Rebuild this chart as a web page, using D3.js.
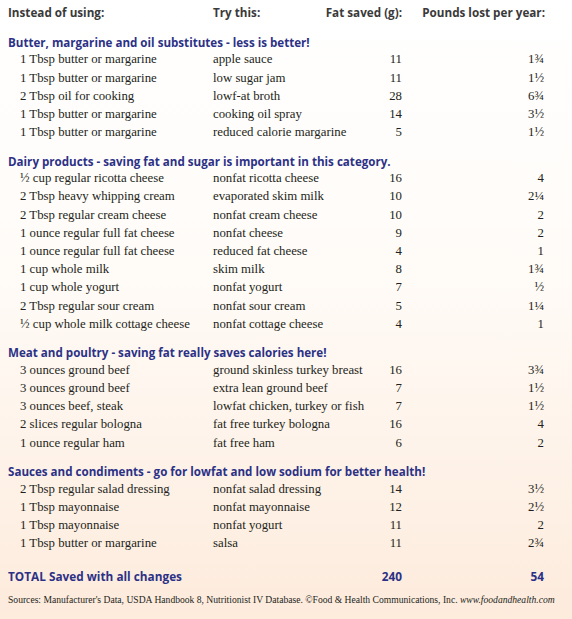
<!DOCTYPE html>
<html><head><meta charset="utf-8">
<script src="https://cdn.jsdelivr.net/npm/d3@7"></script>
<style>body{margin:0;}svg{display:block;}</style>
</head><body>
<script>
const headers = ["Instead of using:", "Try this:", "Fat saved (g):", "Pounds lost per year:"];
const sectionTitles = [
  "Butter, margarine and oil substitutes - less is better!",
  "Dairy products - saving fat and sugar is important in this category.",
  "Meat and poultry - saving fat really saves calories here!",
  "Sauces and condiments - go for lowfat and low sodium for better health!"
];
const insteadOf = [
  ["1 Tbsp butter or margarine","1 Tbsp butter or margarine","2 Tbsp oil for cooking","1 Tbsp butter or margarine","1 Tbsp butter or margarine"],
  ["½ cup regular ricotta cheese","2 Tbsp heavy whipping cream","2 Tbsp regular cream cheese","1 ounce regular full fat cheese","1 ounce regular full fat cheese","1 cup whole milk","1 cup whole yogurt","2 Tbsp regular sour cream","½ cup whole milk cottage cheese"],
  ["3 ounces ground beef","3 ounces ground beef","3 ounces beef, steak","2 slices regular bologna","1 ounce regular ham"],
  ["2 Tbsp regular salad dressing","1 Tbsp mayonnaise","1 Tbsp mayonnaise","1 Tbsp butter or margarine"]
];
const tryThis = [
  ["apple sauce","low sugar jam","lowf-at broth","cooking oil spray","reduced calorie margarine"],
  ["nonfat ricotta cheese","evaporated skim milk","nonfat cream cheese","nonfat cheese","reduced fat cheese","skim milk","nonfat yogurt","nonfat sour cream","nonfat cottage cheese"],
  ["ground skinless turkey breast","extra lean ground beef","lowfat chicken, turkey or fish","fat free turkey bologna","fat free ham"],
  ["nonfat salad dressing","nonfat mayonnaise","nonfat yogurt","salsa"]
];
const fatSaved = [
  [11,11,28,14,5],
  [16,10,10,9,4,8,7,5,4],
  [16,7,7,16,6],
  [14,12,11,11]
];
const poundsLost = [
  ["1¾","1½","6¾","3½","1½"],
  ["4","2¼","2","2","1","1¾","½","1¼","1"],
  ["3¾","1½","1½","4","2"],
  ["3½","2½","2","2¾"]
];
const totalLabel = "TOTAL Saved with all changes";
const totalFat = 240, totalPounds = 54;
const sourceText = "Sources: Manufacturer's Data, USDA Handbook 8, Nutritionist IV Database. ©Food & Health Communications, Inc. ";
const sourceUrl = "www.foodandhealth.com";

const W = 572, H = 619;
const navy = "#2c3186", gray = "#3a3a3a", body = "#231f20";
const sans = "'Open Sans','DejaVu Sans',sans-serif", serif = "'Liberation Serif','DejaVu Serif',serif";

const svg = d3.select("body").append("svg").attr("width", W).attr("height", H);
const grad = svg.append("defs").append("linearGradient").attr("id","bg").attr("x1",0).attr("y1",0).attr("x2",0).attr("y2",1);
grad.append("stop").attr("offset","0%").attr("stop-color","#ffffff");
grad.append("stop").attr("offset","45%").attr("stop-color","#fffbf7");
grad.append("stop").attr("offset","100%").attr("stop-color","#fdebdc");
svg.append("rect").attr("width",W).attr("height",H).attr("fill","url(#bg)");

// column positions
const x = d3.scaleOrdinal().domain(["c1","c2","fat","lb","title"]).range([20, 213, 402, 544, 8]);

// vertical layout: running pixel offset per line
let pos = 43;
const lines = [];
sectionTitles.forEach((t, s) => {
  lines.push({type:"title", text:t, y:pos});
  pos += 16;
  insteadOf[s].forEach((d, i) => {
    lines.push({type:"row", a:d, b:tryThis[s][i], f:fatSaved[s][i], p:poundsLost[s][i], y:pos});
    pos += 18.2;
  });
  pos += 30 - 18.2;
});
const y = d3.scaleLinear().domain([0, H]).range([0, H]);

const hdr = [[headers[0], 8, "start"], [headers[1], 213, "start"], [headers[2], 402, "end"], [headers[3], 545, "end"]];
svg.selectAll("text.hdr").data(hdr).enter().append("text")
  .attr("x", d => d[1]).attr("y", y(13)).attr("dy","0.35em").attr("text-anchor", d => d[2])
  .attr("font-family", sans).attr("font-weight","bold").attr("font-size", 11.7).attr("fill", gray).text(d => d[0]);

svg.selectAll("text.title").data(lines.filter(d => d.type === "title")).enter().append("text")
  .attr("x", x("title")).attr("y", d => y(d.y)).attr("dy","0.35em")
  .attr("font-family", sans).attr("font-weight","bold").attr("font-size", 11.6).attr("fill", navy).text(d => d.text);

const rows = svg.selectAll("g.row").data(lines.filter(d => d.type === "row")).enter().append("g")
  .attr("transform", d => `translate(0,${y(d.y)})`)
  .attr("font-family", serif).attr("font-size", 12.8).attr("fill", body);
rows.append("text").attr("x", x("c1")).attr("dy","0.35em").text(d => d.a);
rows.append("text").attr("x", x("c2")).attr("dy","0.35em").text(d => d.b);
rows.append("text").attr("x", x("fat")).attr("dy","0.35em").attr("text-anchor","end").text(d => d.f);
rows.append("text").attr("x", x("lb")).attr("dy","0.35em").attr("text-anchor","end").text(d => d.p);

const tot = svg.append("g").attr("transform", `translate(0,${y(577)})`)
  .attr("font-family", sans).attr("font-weight","bold").attr("font-size", 11.8).attr("fill", navy);
tot.append("text").attr("x", 8).attr("dy","0.35em").text(totalLabel);
tot.append("text").attr("x", 402).attr("dy","0.35em").attr("text-anchor","end").text(totalFat);
tot.append("text").attr("x", 544).attr("dy","0.35em").attr("text-anchor","end").text(totalPounds);

const src = svg.append("text").attr("x", 8).attr("y", y(600)).attr("dy","0.35em")
  .attr("font-family", serif).attr("font-size", 9.6).attr("fill", body).text(sourceText);
src.append("tspan").attr("font-style","italic").text(sourceUrl);
</script>
</body></html>
